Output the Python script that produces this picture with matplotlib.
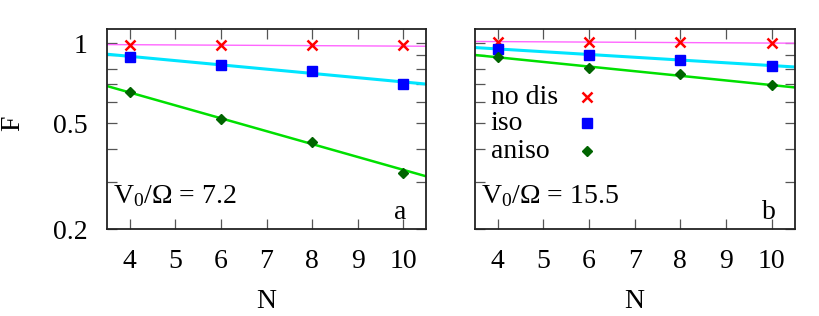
import matplotlib
matplotlib.use('Agg')
import matplotlib.pyplot as plt
from matplotlib.ticker import FixedLocator, NullFormatter, FixedFormatter

plt.rcParams['font.family'] = ['Liberation Serif', 'DejaVu Serif']
plt.rcParams['mathtext.fontset'] = 'custom'
plt.rcParams['mathtext.rm'] = 'Liberation Serif'
plt.rcParams['mathtext.it'] = 'Liberation Serif:italic'

N = [4, 6, 8, 10]
fit_x = [3.5, 10.5]

# panel a, V0/Omega = 7.2
a_nodis = [0.985, 0.984, 0.983, 0.982]
a_iso = [0.885, 0.828, 0.786, 0.702]
a_aniso = [0.653, 0.521, 0.425, 0.326]
a_fit_nodis = [0.988, 0.974]
a_fit_iso = [0.909, 0.702]
a_fit_aniso = [0.69, 0.316]

# panel b, V0/Omega = 15.5
b_nodis = [1.010, 1.007, 1.007, 1.002]
b_iso = [0.949, 0.903, 0.865, 0.821]
b_aniso = [0.885, 0.809, 0.766, 0.694]
b_fit_nodis = [1.015, 1.0]
b_fit_iso = [0.963, 0.814]
b_fit_aniso = [0.903, 0.682]

labels = ['no dis', 'iso', 'aniso']
x_ticks = [4, 5, 6, 7, 8, 9, 10]
y_major = [0.2, 0.5, 1]
y_major_labels = ['0.2', '0.5', '1']
y_minor = [0.3, 0.4, 0.6, 0.7, 0.8, 0.9]

fs = 20
pt_style = [dict(marker='x', color='#ff0000', ms=7.5, mew=1.8, ls='none'),
            dict(marker='s', color='#0000ff', ms=6.5, ls='none'),
            dict(marker='D', color='#006400', ms=5.5, ls='none')]
line_style = [dict(color='#ff66ff', lw=1.0),
              dict(color='#00e5ff', lw=2.2),
              dict(color='#00e000', lw=1.8)]

fig = plt.figure(figsize=(8.2, 3.16), dpi=100)
ax_a = fig.add_axes([0.1305, 0.275, 0.389, 0.633])
ax_b = fig.add_axes([0.579, 0.275, 0.390, 0.633])

panels = [(ax_a, [a_nodis, a_iso, a_aniso], [a_fit_nodis, a_fit_iso, a_fit_aniso], '7.2', 'a'),
          (ax_b, [b_nodis, b_iso, b_aniso], [b_fit_nodis, b_fit_iso, b_fit_aniso], '15.5', 'b')]

for ax, pts, fits, v, tag in panels:
    for k in range(3):
        ax.plot(fit_x, fits[k], zorder=2, **line_style[k])
        ax.plot(N, pts[k], zorder=3, **pt_style[k])
    ax.set_yscale('log')
    ax.set_xlim(3.5, 10.5)
    ax.set_ylim(0.2, 1.13)
    ax.set_xticks(x_ticks)
    ax.yaxis.set_major_locator(FixedLocator(y_major))
    ax.yaxis.set_minor_locator(FixedLocator(y_minor))
    ax.yaxis.set_minor_formatter(NullFormatter())
    if ax is ax_a:
        ax.yaxis.set_major_formatter(FixedFormatter(y_major_labels))
    else:
        ax.yaxis.set_major_formatter(NullFormatter())
    ax.tick_params(which='both', direction='in', top=True, right=True,
                   length=7, width=0.9, color='#555555', labelsize=fs)
    ax.tick_params(axis='x', pad=14)
    ax.tick_params(axis='y', pad=14)
    for s in ax.spines.values():
        s.set_linewidth(1.3)
        s.set_color('#222222')
    ax.set_xlabel('N', fontsize=fs, labelpad=11)
    ax.text(0.02, 0.13, 'V$_0$/Ω = ' + v, transform=ax.transAxes, fontsize=fs)
    ax.text(0.92, 0.05, tag, transform=ax.transAxes, fontsize=fs, ha='center')

fig.text(0.016, 0.61, 'F', rotation=90, fontsize=fs, ha='center', va='center')

# key in panel b
key_y = [0.66, 0.53, 0.39]
for k in range(3):
    ax_b.text(0.05, key_y[k], labels[k], transform=ax_b.transAxes, fontsize=fs,
              va='center')
    ax_b.plot([0.35], [key_y[k]], transform=ax_b.transAxes, **pt_style[k])

fig.savefig('out.png', dpi=100)
